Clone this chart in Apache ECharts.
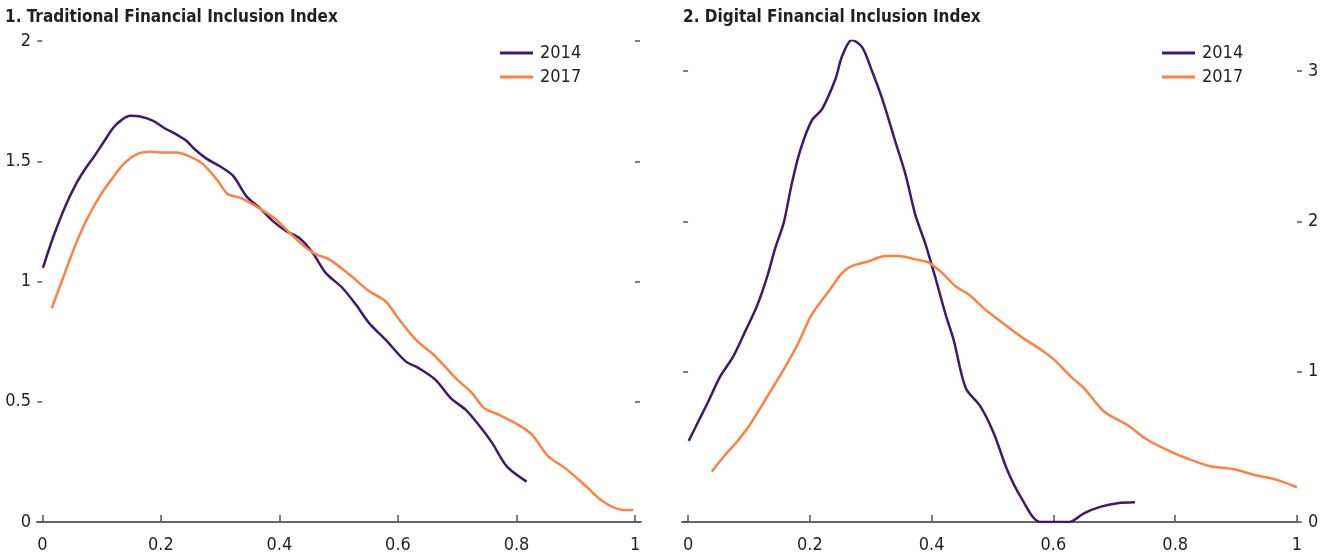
<!DOCTYPE html>
<html>
<head>
<meta charset="utf-8">
<script src="https://cdn.jsdelivr.net/npm/echarts@6/dist/echarts.min.js"></script>
<style>
  html, body { margin: 0; padding: 0; background: #fff; }
  #chart { width: 1331px; height: 557px; }
</style>
</head>
<body>
<div id="chart"></div>
<script>
// panel 1: traditional index density
const trad2014X = [0.001, 0.019, 0.039, 0.058, 0.072, 0.086, 0.103, 0.12, 0.134, 0.148, 0.165, 0.187, 0.207, 0.226, 0.243, 0.257, 0.277, 0.299, 0.322, 0.344, 0.366, 0.389, 0.411, 0.434, 0.456, 0.478, 0.506, 0.529, 0.551, 0.579, 0.613, 0.635, 0.663, 0.689, 0.714, 0.736, 0.759, 0.784, 0.817]
const trad2014Y = [1.057, 1.189, 1.314, 1.411, 1.467, 1.515, 1.578, 1.64, 1.672, 1.689, 1.686, 1.668, 1.636, 1.612, 1.585, 1.55, 1.511, 1.48, 1.439, 1.355, 1.307, 1.251, 1.21, 1.18, 1.12, 1.036, 0.974, 0.904, 0.828, 0.758, 0.668, 0.64, 0.592, 0.515, 0.467, 0.404, 0.328, 0.23, 0.168]
const trad2017X = [0.016, 0.036, 0.055, 0.075, 0.097, 0.117, 0.137, 0.159, 0.182, 0.204, 0.226, 0.249, 0.271, 0.294, 0.313, 0.333, 0.355, 0.378, 0.394, 0.417, 0.445, 0.462, 0.484, 0.518, 0.551, 0.579, 0.602, 0.63, 0.663, 0.697, 0.725, 0.745, 0.77, 0.803, 0.826, 0.854, 0.882, 0.915, 0.946, 0.98, 0.997]
const trad2017Y = [0.89, 1.022, 1.147, 1.258, 1.355, 1.425, 1.488, 1.529, 1.539, 1.536, 1.536, 1.519, 1.488, 1.425, 1.363, 1.349, 1.321, 1.286, 1.258, 1.203, 1.14, 1.113, 1.092, 1.029, 0.96, 0.918, 0.842, 0.758, 0.689, 0.599, 0.536, 0.474, 0.446, 0.404, 0.363, 0.272, 0.224, 0.154, 0.085, 0.05, 0.05]

// panel 2: digital index density
const dig2014X = [0.001, 0.017, 0.033, 0.053, 0.074, 0.094, 0.113, 0.129, 0.143, 0.157, 0.17, 0.184, 0.203, 0.22, 0.242, 0.253, 0.269, 0.286, 0.302, 0.319, 0.34, 0.357, 0.373, 0.39, 0.406, 0.423, 0.436, 0.456, 0.48, 0.502, 0.524, 0.546, 0.579, 0.626, 0.65, 0.678, 0.705, 0.734]
const dig2014Y = [0.54, 0.67, 0.8, 0.97, 1.1, 1.27, 1.435, 1.62, 1.82, 1.99, 2.245, 2.47, 2.67, 2.747, 2.947, 3.1, 3.207, 3.158, 3.0, 2.813, 2.535, 2.313, 2.047, 1.847, 1.627, 1.38, 1.213, 0.891, 0.769, 0.591, 0.347, 0.169, 0, 0, 0.058, 0.102, 0.125, 0.131]
const dig2017X = [0.039, 0.061, 0.083, 0.105, 0.132, 0.16, 0.181, 0.203, 0.231, 0.253, 0.269, 0.297, 0.324, 0.346, 0.373, 0.395, 0.417, 0.439, 0.461, 0.488, 0.502, 0.546, 0.579, 0.601, 0.628, 0.65, 0.683, 0.721, 0.754, 0.798, 0.826, 0.859, 0.897, 0.93, 0.963, 1.0]
const dig2017Y = [0.335, 0.447, 0.547, 0.669, 0.847, 1.035, 1.191, 1.38, 1.535, 1.658, 1.702, 1.735, 1.769, 1.769, 1.747, 1.725, 1.658, 1.569, 1.513, 1.413, 1.369, 1.235, 1.147, 1.08, 0.969, 0.891, 0.735, 0.647, 0.547, 0.458, 0.413, 0.369, 0.351, 0.313, 0.285, 0.231]

const xTicks = [0, 0.2, 0.4, 0.6, 0.8, 1]
const tradTicks = [0, 0.5, 1, 1.5, 2]
const digTicks = [0, 1, 2, 3]
const years = ['2014', '2017']
const titles = ['1. Traditional Financial Inclusion Index', '2. Digital Financial Inclusion Index']

const purple = '#3d1a6b'
const orange = '#ff8040'
const textColor = '#231f20'
const font = '"Liberation Sans Narrow", "DejaVu Sans Condensed", sans-serif'

const zip = (xs, ys) => xs.map((x, i) => [x, ys[i]])

const xAxisCfg = (gridIndex, min, max) => ({
  type: 'value',
  gridIndex,
  min,
  max,
  axisLine: { show: true, lineStyle: { color: '#666', width: 2 } },
  axisTick: { show: true, inside: true, length: 7, customValues: xTicks, lineStyle: { color: '#555', width: 1.5 } },
  axisLabel: { customValues: xTicks, color: textColor, fontSize: 18, fontFamily: font, margin: 14 },
  splitLine: { show: false }
})

const yAxisCfg = (gridIndex, max, ticks, position, offset, showLabel) => ({
  type: 'value',
  gridIndex,
  min: 0,
  max,
  position,
  offset,
  axisLine: { show: false },
  axisTick: { show: true, length: 5, customValues: ticks, lineStyle: { color: '#555', width: 1.5 } },
  axisLabel: { show: showLabel, customValues: ticks, color: textColor, fontSize: 18, fontFamily: font, margin: 11 },
  splitLine: { show: false }
})

const lineSeries = (name, color, xAxisIndex, data) => ({
  type: 'line',
  name,
  xAxisIndex,
  yAxisIndex: xAxisIndex * 2,
  data,
  showSymbol: false,
  smooth: 0.3,
  lineStyle: { color, width: 2.5 },
  itemStyle: { color }
})

const legendCfg = (left) => ({
  data: years,
  orient: 'vertical',
  left,
  top: 43,
  icon: 'rect',
  itemWidth: 33,
  itemHeight: 3,
  itemGap: 4,
  padding: 0,
  textStyle: { color: textColor, fontSize: 18, lineHeight: 20, fontFamily: font, padding: [0, 0, 0, 2] }
})

const chart = echarts.init(document.getElementById('chart'))
chart.setOption({
  animation: false,
  title: titles.map((text, i) => ({
    text,
    left: i === 0 ? 5 : 683,
    top: 9,
    padding: 0,
    textStyle: { color: textColor, fontSize: 17, fontWeight: 'bold', fontFamily: font }
  })),
  legend: [legendCfg(500), legendCfg(1162)],
  grid: [
    { left: 37, right: 690, top: 41, bottom: 35 },
    { left: 682, right: 34, top: 41, bottom: 35 }
  ],
  xAxis: [xAxisCfg(0, -0.009, 1.01), xAxisCfg(1, -0.01, 1)],
  yAxis: [
    yAxisCfg(0, 2, tradTicks, 'left', -5, true),
    yAxisCfg(0, 2, tradTicks, 'right', -6, false),
    yAxisCfg(1, 3.2, digTicks, 'left', -6, false),
    yAxisCfg(1, 3.2, digTicks, 'right', 0, true)
  ],
  series: [
    lineSeries(years[0], purple, 0, zip(trad2014X, trad2014Y)),
    lineSeries(years[1], orange, 0, zip(trad2017X, trad2017Y)),
    lineSeries(years[0], purple, 1, zip(dig2014X, dig2014Y)),
    lineSeries(years[1], orange, 1, zip(dig2017X, dig2017Y))
  ]
})
</script>
</body>
</html>
